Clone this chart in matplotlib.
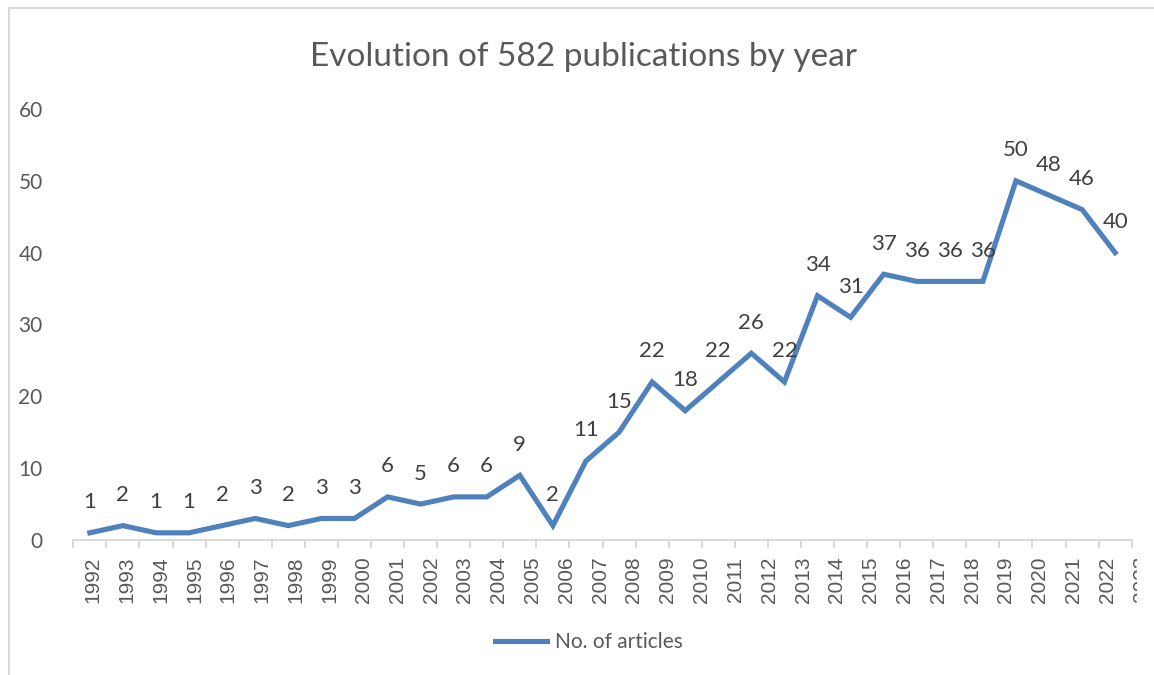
import matplotlib.pyplot as plt
from matplotlib.patches import Rectangle
from matplotlib.transforms import Bbox, TransformedBbox
import numpy as np

years = [str(y) for y in range(1992, 2024)]
articles = [1, 2, 1, 1, 2, 3, 2, 3, 3, 6, 5, 6, 6, 9, 2, 11, 15, 22, 18, 22,
            26, 22, 34, 31, 37, 36, 36, 36, 50, 48, 46, 40]

W, H = 1154, 675
fig = plt.figure(figsize=(W / 100, H / 100), dpi=100)

# chart border (clipped at right/bottom like the screenshot)
fig.patches.append(Rectangle((9 / W, -0.1), 1.2, (H - 8) / H + 0.1,
                             transform=fig.transFigure, fill=False,
                             edgecolor='#d9d9d9', linewidth=1.5))

ax = fig.add_axes([73.3 / W, (H - 540) / H, (1131.7 - 73.3) / W, (540 - 109) / H])

x = np.arange(len(articles)) + 0.5
line, = ax.plot(x, articles, color='#4f81bd', linewidth=3.7,
                solid_joinstyle='miter', label='No. of articles')

for xi, v in zip(x, articles):
    ax.annotate(str(v), (xi, v), xytext=(0, 22), textcoords='offset points',
                ha='center', va='center', fontsize=16, color='#404040',
                family='Lato')

ax.set_xlim(0, len(articles))
ax.set_ylim(0, 60)
ax.set_yticks(range(0, 61, 10))
ax.tick_params(axis='y', length=0, labelsize=15, labelcolor='#595959', pad=22)
for lbl in ax.get_yticklabels():
    lbl.set_family('Lato')

# tick marks on category boundaries, labels on (slightly drifting) centres
ax.set_xticks(np.arange(len(articles) + 1))
ax.set_xticklabels([])
ax.tick_params(axis='x', which='major', length=6, color='#d9d9d9', width=1.5)
label_pos = 0.6 + np.arange(len(years)) * 1.022
ax.set_xticks(label_pos[:-1], minor=True)
ax.set_xticklabels(years[:-1], minor=True, rotation=90, fontsize=15,
                   color='#595959', family='Liberation Sans')
ax.tick_params(axis='x', which='minor', length=0, pad=12)

# last label runs off the chart area and is cut, as in the original
last = ax.text(label_pos[-1], 0, years[-1], rotation=90, fontsize=15,
               color='#595959', family='Liberation Sans', ha='center', va='top',
               transform=ax.get_xaxis_transform())
last.set_position((label_pos[-1], -16 / (540 - 109)))
last.set_clip_on(True)
last.set_clip_box(TransformedBbox(Bbox([[0, 0], [1137 / W, 1]]), fig.transFigure))

for side in ['top', 'right', 'left']:
    ax.spines[side].set_visible(False)
ax.spines['bottom'].set_color('#d9d9d9')
ax.spines['bottom'].set_linewidth(1.5)

fig.text(583 / W, 1 - 57 / H, 'Evolution of 582 publications by year',
         ha='center', va='center', fontsize=24, color='#595959', family='Lato')

fig.legend(handles=[line], loc='center', bbox_to_anchor=(589 / W, 1 - 642 / H),
           frameon=False, labelcolor='#595959', handlelength=2.5,
           handletextpad=0.4, prop={'family': 'Lato', 'size': 15})

fig.savefig('out.png', dpi=100)
